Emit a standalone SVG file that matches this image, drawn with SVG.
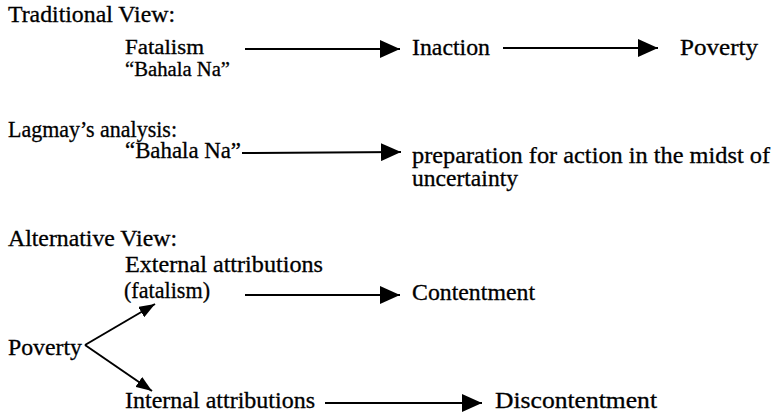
<svg xmlns="http://www.w3.org/2000/svg" width="779" height="416" viewBox="0 0 779 416">
<style>
text{font-family:"Liberation Serif","DejaVu Serif",serif;font-size:23px;fill:#000;stroke:#000;stroke-width:0.3}
.s{font-size:20px}
.c line{stroke:#000;stroke-width:2}
</style>
<defs>
<marker id="ah" viewBox="0 0 20 18" refX="20" refY="9" markerWidth="20" markerHeight="18" markerUnits="userSpaceOnUse" orient="auto">
<path d="M0,0 L20,9 L0,18 Z" fill="#000"/>
</marker>
<marker id="ahs" viewBox="0 0 16 12" refX="16" refY="6" markerWidth="16" markerHeight="12" markerUnits="userSpaceOnUse" orient="auto">
<path d="M0,0 L16,6 L0,12 Z" fill="#000"/>
</marker>
</defs>
<rect width="779" height="416" fill="#fff"/>
<g id="h1"><text x="8" y="22" textLength="167" lengthAdjust="spacingAndGlyphs">Traditional View:</text></g>
<g id="fatalism"><text class="s" x="125" y="54" textLength="79" lengthAdjust="spacingAndGlyphs">Fatalism</text><text class="s" x="125" y="76" textLength="105" lengthAdjust="spacingAndGlyphs">“Bahala Na”</text></g>
<g id="inaction"><text x="412" y="55" textLength="78" lengthAdjust="spacingAndGlyphs">Inaction</text></g>
<g id="poverty1"><text x="680" y="55" textLength="78" lengthAdjust="spacingAndGlyphs">Poverty</text></g>
<g id="h2"><text x="8" y="137" textLength="169" lengthAdjust="spacingAndGlyphs">Lagmay’s analysis:</text></g>
<g id="bahala2"><text x="125" y="158" textLength="116" lengthAdjust="spacingAndGlyphs">“Bahala Na”</text></g>
<g id="preparation"><text x="412" y="163" textLength="358" lengthAdjust="spacingAndGlyphs">preparation for action in the midst of</text><text x="412" y="186" textLength="106" lengthAdjust="spacingAndGlyphs">uncertainty</text></g>
<g id="h3"><text x="8" y="246" textLength="169" lengthAdjust="spacingAndGlyphs">Alternative View:</text></g>
<g id="external"><text x="125" y="272" textLength="198" lengthAdjust="spacingAndGlyphs">External attributions</text><text x="124" y="298" textLength="86" lengthAdjust="spacingAndGlyphs">(fatalism)</text></g>
<g id="contentment"><text x="412" y="300" textLength="123" lengthAdjust="spacingAndGlyphs">Contentment</text></g>
<g id="poverty2"><text x="8" y="355" textLength="74" lengthAdjust="spacingAndGlyphs">Poverty</text></g>
<g id="internal"><text x="125" y="408" textLength="190" lengthAdjust="spacingAndGlyphs">Internal attributions</text></g>
<g id="discontentment"><text x="495" y="408" textLength="162" lengthAdjust="spacingAndGlyphs">Discontentment</text></g>
<g class="c" id="connectors">
<line x1="245" y1="49" x2="400" y2="49" marker-end="url(#ah)"/>
<line x1="503" y1="48" x2="658" y2="48" marker-end="url(#ah)"/>
<line x1="242" y1="153" x2="401" y2="152" marker-end="url(#ah)"/>
<line x1="245" y1="295" x2="400" y2="295" marker-end="url(#ah)"/>
<line x1="325" y1="403" x2="482" y2="403" marker-end="url(#ah)"/>
<line x1="85" y1="345" x2="155" y2="304" marker-end="url(#ahs)"/>
<line x1="85" y1="345" x2="152" y2="391" marker-end="url(#ahs)"/>
</g>
</svg>
